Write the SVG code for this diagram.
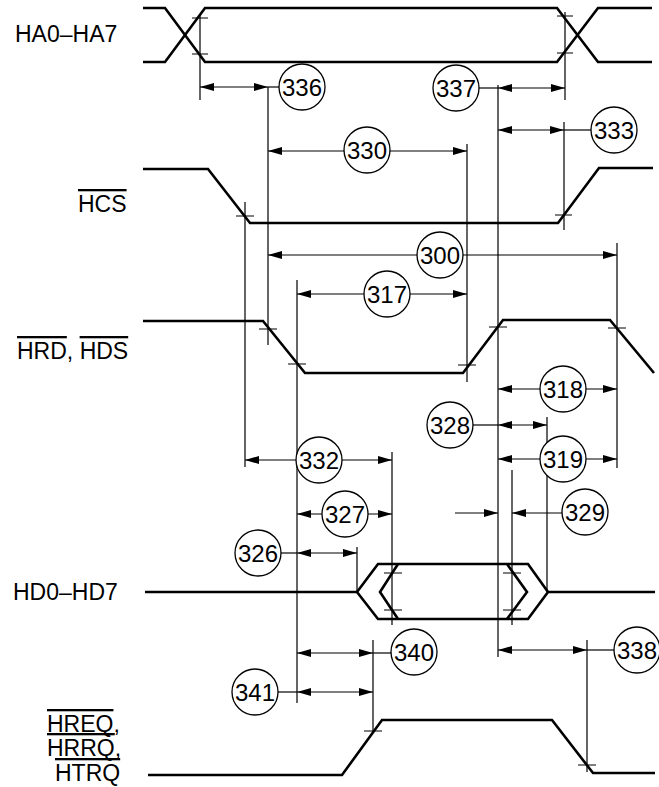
<svg xmlns="http://www.w3.org/2000/svg" width="659" height="787" viewBox="0 0 659 787">
<style>
.sig{fill:none;stroke:#000;stroke-width:2.6;stroke-linejoin:miter}
.g{stroke:#000;stroke-width:1.2;fill:none}
.t{stroke:#000;stroke-width:1.1}
.d{stroke:#000;stroke-width:1.2;fill:none}
.a2{marker-start:url(#ah);marker-end:url(#ah)}
.a1{marker-end:url(#ah)}
.c circle{fill:#fff;stroke:#000;stroke-width:1.3}
.c text{font-family:"Liberation Sans",Arial,sans-serif;font-size:24px;text-anchor:middle}
.lab{font-family:"Liberation Sans",Arial,sans-serif;font-size:23px}
.ov{text-decoration:overline}
</style>
<defs>
<marker id="ah" viewBox="0 0 14 8" refX="14" refY="4" markerWidth="14" markerHeight="8" markerUnits="userSpaceOnUse" orient="auto-start-reverse"><path d="M0,0 L14,4 L0,8 z"/></marker>
</defs>
<rect width="659" height="787" fill="#fff"/>

<g id="sig-ha">
<text class="lab" x="15" y="42">HA0–HA7</text>
<path class="sig" d="M143,8 H165 L205,62 H557 L598,8 H652"/>
<path class="sig" d="M143,62 H165 L205,8 H557 L598,62 H652"/>
</g>
<g id="sig-hcs">
<text class="lab" x="78" y="212"><tspan class="ov">HCS</tspan></text>
<path class="sig" d="M143,169 H208 L250,223 H558 L599,168 H653"/>
</g>
<g id="sig-hrd">
<text class="lab" x="17" y="359"><tspan class="ov">HRD</tspan>, <tspan class="ov">HDS</tspan></text>
<path class="sig" d="M143,321 H263 L305,373 H463 L503,320 H610 L654,373"/>
</g>
<g id="sig-hd">
<text class="lab" x="13" y="600">HD0–HD7</text>
<path class="sig" d="M145,592 H357 M548,592 H655"/>
<path class="sig" d="M357,592 L378,564 H528 L548,592 L528,619 H378 Z"/>
<path class="sig" d="M398,564 L380,592 L398,619 M507,564 L527,592 L507,619"/>
</g>
<g id="sig-hreq">
<text class="lab" x="47" y="732"><tspan class="ov">HREQ</tspan>,</text>
<text class="lab" x="47" y="756"><tspan class="ov">HRRQ</tspan>,</text>
<text class="lab" x="55" y="781"><tspan class="ov">HTRQ</tspan></text>
<path class="sig" d="M148,775 H342 L382,720 H552 L593,773 H655"/>
</g>

<g id="connectors">
<path class="g" d="M200,14 V100 M565,12 V100 M268,87 V345 M498,85 V657 M564,122 V230 M245,202 V467 M467,144 V382 M617,243 V468 M297,280 V703 M392,452 V625 M512,470 V625 M547,417 V592 M357,547 V592 M373,640 V731 M587,640 V772"/>
<path class="t" d="M192,18 H208 M192,54 H208 M557,16 H573 M557,53 H573 M236,216 H254 M555,215 H572 M259,329 H277 M288,364 H306 M458,365 H476 M489,327 H507 M608,328 H626 M384,573 H402 M384,610 H402 M503,573 H521 M503,610 H521 M364,731 H382 M578,765 H596"/>
<line class="d a2" x1="200" y1="87" x2="268" y2="87"/>
<line class="d" x1="268" y1="87" x2="280" y2="87"/>
<line class="d a2" x1="498" y1="88" x2="565" y2="88"/>
<line class="d" x1="479" y1="88" x2="498" y2="88"/>
<line class="d a2" x1="498" y1="130" x2="564" y2="130"/>
<line class="d" x1="564" y1="130" x2="592" y2="130"/>
<line class="d a2" x1="268" y1="151" x2="467" y2="151"/>
<line class="d a2" x1="268" y1="255" x2="617" y2="255"/>
<line class="d a2" x1="297" y1="294" x2="467" y2="294"/>
<line class="d a2" x1="498" y1="389" x2="617" y2="389"/>
<line class="d a2" x1="498" y1="425" x2="547" y2="425"/>
<line class="d" x1="472" y1="425" x2="498" y2="425"/>
<line class="d a2" x1="498" y1="459" x2="617" y2="459"/>
<line class="d a2" x1="245" y1="460" x2="392" y2="460"/>
<line class="d a2" x1="297" y1="514" x2="392" y2="514"/>
<line class="d a1" x1="455" y1="513" x2="498" y2="513"/>
<line class="d a1" x1="562" y1="513" x2="512" y2="513"/>
<line class="d a2" x1="297" y1="553" x2="357" y2="553"/>
<line class="d" x1="280" y1="553" x2="297" y2="553"/>
<line class="d a2" x1="297" y1="653" x2="373" y2="653"/>
<line class="d" x1="373" y1="653" x2="392" y2="653"/>
<line class="d a2" x1="297" y1="692" x2="373" y2="692"/>
<line class="d" x1="277" y1="692" x2="297" y2="692"/>
<line class="d a2" x1="498" y1="650" x2="587" y2="650"/>
<line class="d" x1="587" y1="650" x2="616" y2="650"/>
</g>

<g id="n336" class="c"><circle cx="302" cy="87" r="23"/><text x="302" y="96">336</text></g>
<g id="n337" class="c"><circle cx="456" cy="88" r="23"/><text x="456" y="97">337</text></g>
<g id="n333" class="c"><circle cx="614" cy="130" r="23"/><text x="614" y="139">333</text></g>
<g id="n330" class="c"><circle cx="367" cy="150" r="23"/><text x="367" y="159">330</text></g>
<g id="n300" class="c"><circle cx="440" cy="255" r="23"/><text x="440" y="264">300</text></g>
<g id="n317" class="c"><circle cx="387" cy="294" r="23"/><text x="387" y="303">317</text></g>
<g id="n318" class="c"><circle cx="563" cy="389" r="23"/><text x="563" y="398">318</text></g>
<g id="n328" class="c"><circle cx="450" cy="425" r="23"/><text x="450" y="434">328</text></g>
<g id="n319" class="c"><circle cx="563" cy="459" r="23"/><text x="563" y="468">319</text></g>
<g id="n332" class="c"><circle cx="319" cy="460" r="23"/><text x="319" y="469">332</text></g>
<g id="n327" class="c"><circle cx="345" cy="514" r="23"/><text x="345" y="523">327</text></g>
<g id="n329" class="c"><circle cx="585" cy="512" r="23"/><text x="585" y="521">329</text></g>
<g id="n326" class="c"><circle cx="258" cy="553" r="23"/><text x="258" y="562">326</text></g>
<g id="n340" class="c"><circle cx="414" cy="652" r="23"/><text x="414" y="661">340</text></g>
<g id="n341" class="c"><circle cx="255" cy="692" r="23"/><text x="255" y="701">341</text></g>
<g id="n338" class="c"><circle cx="637" cy="650" r="23"/><text x="637" y="659">338</text></g>
</svg>
